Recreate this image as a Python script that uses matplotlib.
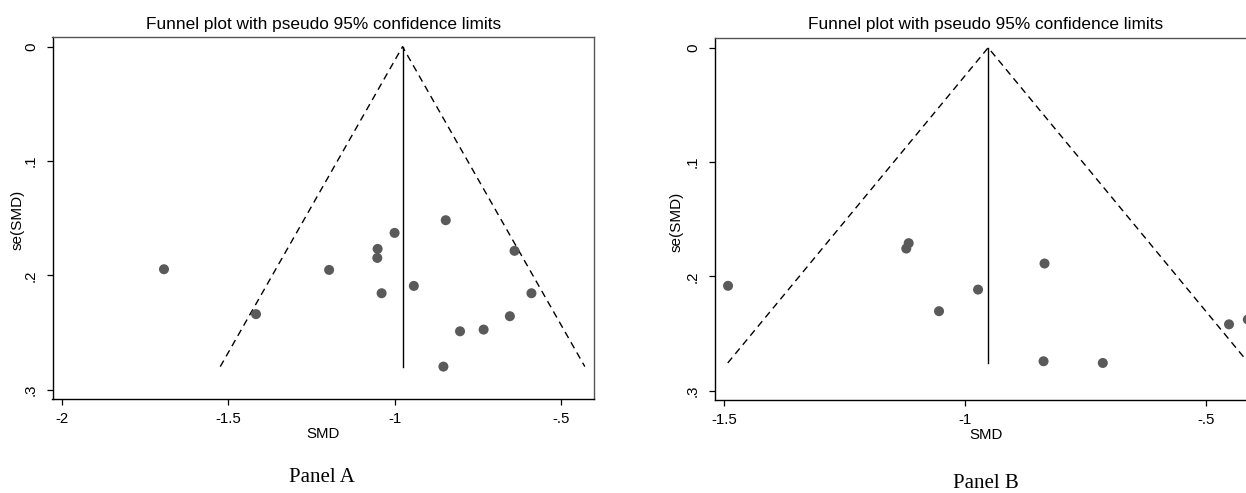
import matplotlib
matplotlib.use("Agg")
import matplotlib.pyplot as plt
import numpy as np

# ---- data ----
smd_a = [-1.694, -1.417, -1.197, -1.051, -1.052, -1.039, -1.000, -0.942,
         -0.846, -0.853, -0.803, -0.732, -0.653, -0.639, -0.588]
se_a = [0.1947, 0.2340, 0.1953, 0.1769, 0.1848, 0.2157, 0.1629, 0.2093,
        0.1518, 0.2799, 0.2490, 0.2475, 0.2358, 0.1786, 0.2157]
pooled_a = -0.976

smd_b = [-1.492, -1.117, -1.122, -1.054, -0.973, -0.835, -0.837, -0.714,
         -0.452, -0.413]
se_b = [0.2083, 0.1710, 0.1757, 0.2305, 0.2116, 0.1888, 0.2743, 0.2758,
        0.2420, 0.2378]
pooled_b = -0.952

xticks_a = [-2, -1.5, -1, -0.5]
xticklabels_a = ["-2", "-1.5", "-1", "-.5"]
xticks_b = [-1.5, -1, -0.5]
xticklabels_b = ["-1.5", "-1", "-.5"]
yticks = [0, 0.1, 0.2, 0.3]
yticklabels = ["0", ".1", ".2", ".3"]

title = "Funnel plot with pseudo 95% confidence limits"
xlabel = "SMD"
ylabel = "se(SMD)"
panel_labels = ["Panel A", "Panel B"]

# ---- figure ----
W, H = 1246, 493
fig = plt.figure(figsize=(W / 100, H / 100), dpi=100)
plt.rcParams['font.family'] = ['Liberation Sans', 'DejaVu Sans']

def px_ax(l, r, t, b):
    return [l / W, (H - b) / H, (r - l) / W, (b - t) / H]

ax_a = fig.add_axes(px_ax(52.5, 594.3, 36.7, 399.3))
ax_b = fig.add_axes(px_ax(714.5, 1257.4, 37.7, 400.0))

marker_color = "#5a5a5a"

def draw(ax, smd, se, pooled, xticks, xticklabels, xlim, ylim):
    semax = max(se)
    z = 1.96
    ax.plot([pooled - z * semax, pooled, pooled + z * semax], [semax, 0, semax],
            color="black", lw=1.0, ls=(0, (5, 3.5)), zorder=2)
    ax.plot([pooled, pooled], [0, semax], color="black", lw=1.0, zorder=2)
    ax.scatter(smd, se, s=52, color=marker_color, edgecolors="none", zorder=3)
    ax.set_xlim(*xlim)
    ax.set_ylim(*ylim)
    ax.set_xticks(xticks)
    ax.set_xticklabels(xticklabels)
    ax.set_yticks(yticks)
    ax.set_yticklabels(yticklabels, rotation=90, va="center")
    ax.tick_params(axis="both", direction="out", length=4.5, width=0.9,
                   labelsize=10.8, colors="black")
    ax.tick_params(axis="y", pad=6.0)
    ax.tick_params(axis="x", pad=5.0)
    for s in ax.spines.values():
        s.set_linewidth(1.0)
        s.set_color("black")
    ax.spines["top"].set_color("#555555")
    ax.spines["right"].set_color("#555555")

draw(ax_a, smd_a, se_a, pooled_a, xticks_a, xticklabels_a,
     (-2.0295, -0.3989), (0.3085, -0.00875))
draw(ax_b, smd_b, se_b, pooled_b, xticks_b, xticklabels_b,
     (-1.5201, -0.3931), (0.3082, -0.00875))

def ft(x, y, s, **kw):
    fig.text(x / W, (H - y) / H, s, ha="center", va="center", **kw)

ft(323.4, 24, title, fontsize=12.4)
ft(986.0, 24, title, fontsize=12.4)
ft(323.4, 434.5, xlabel, fontsize=10.8)
ft(986.0, 435, xlabel, fontsize=10.8)
ft(18, 220, ylabel, fontsize=11, rotation=90)
ft(677, 222, ylabel, fontsize=11, rotation=90)
ft(322, 477, panel_labels[0], fontsize=15, family=["Liberation Serif", "DejaVu Serif"])
ft(985.8, 483, panel_labels[1], fontsize=15, family=["Liberation Serif", "DejaVu Serif"])

fig.savefig("out.png", dpi=100)
